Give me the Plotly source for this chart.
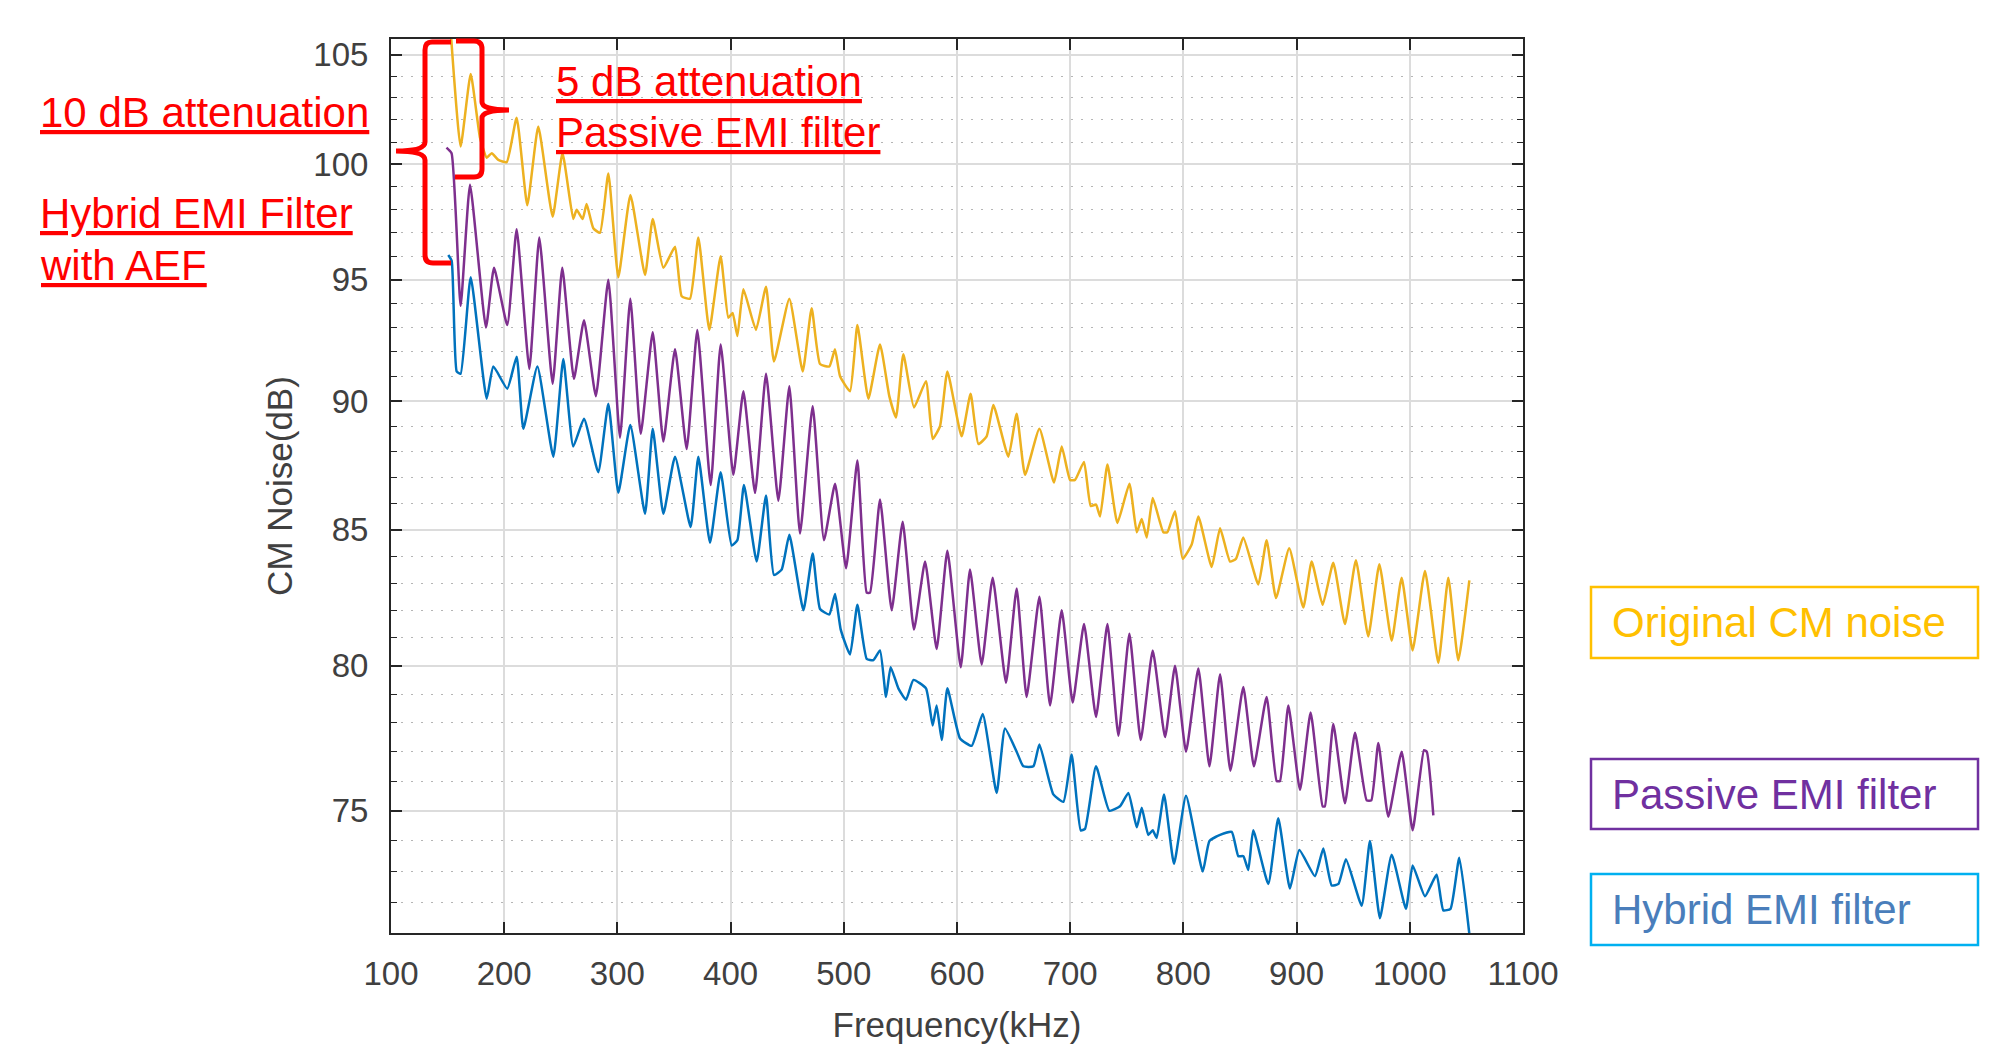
import plotly.graph_objects as go
import math

# ---------------- data ----------------
orig_khz = [153, 161.5, 170.4, 178.6, 184.5, 189, 194.8, 202.2, 211, 220.4, 230.1, 242.8, 251.5, 261, 264,
            269.3, 272.8, 278.7, 284.6, 292, 300.8, 311.5, 324.4, 331.2, 340.6, 350.9, 356.8, 364.1, 371.5,
            381.2, 391.2, 398, 401.8, 406, 411.3, 422.4, 431.3, 438.3, 451.9, 463.7, 471.6, 479, 487.2, 492.2,
            496.7, 505.5, 512, 521.7, 532, 540.2, 546.1, 552.6, 562, 572.6, 578.5, 585, 591.5, 604.1, 612,
            618.9, 626.2, 632.1, 645.4, 652.7, 660.1, 672.8, 685.7, 692.5, 699.9, 704.3, 712.2, 718.1, 722.8,
            726.4, 732.9, 741.7, 752.3, 758.8, 763.2, 767.6, 772.9, 782.3, 785.8, 792.6, 799.4, 807.4, 813.2,
            825, 832.4, 841.2, 846.4, 852.9, 866.2, 873.5, 881.8, 893.5, 905.9, 913.3, 923, 932.4, 942.7, 952.4,
            963.3, 973.1, 984, 992.8, 1002.5, 1013.4, 1025.2, 1034, 1042.8, 1052.6]
orig_db = [105.9, 100.8, 104.1, 101.2, 100.3, 100.5, 100.2, 100.1, 102.1, 98.2, 101.7, 97.7, 100.5, 97.6, 98.0,
           97.6, 98.25, 97.2, 97.0, 99.6, 95.1, 98.65, 95.2, 97.6, 95.5, 96.4, 94.3, 94.2, 96.8,
           92.9, 96.0, 93.4, 93.6, 92.65, 94.6, 92.9, 94.7, 91.6, 94.2, 91.2, 93.8, 91.5, 91.4, 92.1,
           91.0, 90.4, 93.1, 90.1, 92.3, 90.2, 89.35, 91.9, 89.75, 90.8, 88.5, 89.0, 91.2, 88.6, 90.3,
           88.3, 88.6, 89.85, 87.8, 89.5, 87.1, 88.9, 86.8, 88.2, 86.9, 86.9, 87.6, 85.9, 85.95,
           85.5, 87.5, 85.25, 86.75, 84.9, 85.4, 84.7, 86.2, 84.9, 84.9, 85.7, 83.9, 84.45, 85.5,
           83.6, 85.05, 83.8, 83.9, 84.7, 82.95, 84.6, 82.45, 84.3, 82.1, 83.8, 82.2, 83.75, 81.5, 83.85,
           81.05, 83.7, 80.9, 83.2, 80.55, 83.45, 80.1, 83.2, 80.2, 83.1]

passive_khz = [149, 153.5, 161.5, 169.8, 183.9, 191, 202.7, 211, 222.2, 231, 242.8, 251.3, 261.6, 270.5, 281,
               292, 302.3, 311.4, 320.6, 331.2, 340.6, 350.9, 361.2, 370.6, 382.4, 391.2, 402.4, 411.3, 421.6,
               431.3, 442.2, 451.9, 461.3, 472.5, 482.5, 492.3, 502, 512, 520.2, 523.2, 532, 542.3, 552, 562,
               571.8, 582, 591.5, 603.3, 611.5, 621.8, 631.5, 643.3, 652.7, 661.5, 672.8, 682.2, 692.5, 702.2,
               712.2, 722.8, 732.9, 742.6, 752.3, 762.3, 772.9, 783.8, 792.6, 802.3, 813.2, 823, 832.4, 841.5,
               852.9, 862.3, 873.5, 882.4, 885.3, 892.7, 903, 912.4, 923, 925, 932.4, 942.7, 951.6, 961.9, 966,
               972.2, 981, 992.8, 1002.5, 1012.5, 1015, 1020.8]
passive_db = [100.75, 100.5, 93.9, 99.1, 93.0, 95.5, 93.1, 97.15, 91.3, 96.8, 90.7, 95.5, 90.9, 93.3, 90.2,
              95.0, 88.55, 94.2, 88.7, 92.8, 88.4, 92.1, 88.1, 92.9, 86.7, 92.3, 87.1, 90.4, 86.4,
              91.1, 86.1, 90.6, 84.85, 89.8, 84.6, 86.75, 83.55, 87.65, 82.65, 82.65, 86.15, 82.0, 85.3, 81.3,
              83.8, 80.6, 84.2, 79.95, 83.5, 80.05, 83.2, 79.4, 82.8, 78.9, 82.5, 78.6, 82.0, 78.7,
              81.5, 78.2, 81.5, 77.55, 81.15, 77.4, 80.55, 77.5, 80.0, 77.0, 79.9, 76.5, 79.7, 76.35,
              79.25, 76.5, 78.9, 76.0, 76.0, 78.6, 75.7, 78.35, 75.15, 75.15, 77.95, 75.25, 77.65, 75.35, 75.35,
              77.3, 74.8, 77.0, 74.35, 77.05, 77.0, 74.85]

hybrid_khz = [150.6, 153.6, 158, 161.5, 170.4, 184.5, 190.4, 202.7, 211, 216.9, 229.3, 243.4, 252.2, 261, 270.5,
              283.1, 292, 300.8, 311.4, 324.4, 331.2, 340.6, 350.9, 364.7, 371.5, 381.8, 391.2, 401, 406, 411.8,
              423, 431.3, 438.3, 445.1, 451.9, 464.3, 472.5, 479, 487.2, 492.3, 497.3, 505.5, 512, 520.2, 526.1,
              532, 537.3, 541.4, 548.2, 555, 561.5, 572.6, 578.5, 582, 586.5, 591.5, 602.7, 613, 622.7, 635,
              642.4, 652.7, 658.6, 667.5, 672.8, 685.1, 694, 701.3, 709.3, 713.1, 722.8, 734.6, 744, 751.4,
              758.8, 763.2, 769, 772.9, 776.4, 782.9, 791.7, 802.3, 817.1, 823, 832.4, 842.7, 848.5, 853, 857.3,
              861.7, 875, 883.8, 894.1, 902.4, 916.2, 923.6, 931, 937, 943.6, 957.5, 964.8, 973.6, 984, 996.6,
              1002.5, 1013.4, 1023.7, 1029.6, 1036, 1043.7, 1052.6]
hybrid_db = [96.05, 95.8, 91.2, 91.1, 95.1, 90.1, 91.4, 90.5, 91.8, 88.9, 91.4, 87.8, 91.7, 88.2, 89.3,
             87.2, 89.9, 86.4, 89.05, 85.6, 88.9, 85.6, 87.8, 85.1, 87.8, 84.5, 87.2, 84.4, 84.6, 86.7,
             83.8, 86.3, 83.3, 83.5, 84.8, 82.0, 84.1, 82.05, 81.85, 82.6, 81.3, 80.4, 82.2, 80.25, 80.2,
             80.55, 78.9, 79.95, 79.2, 78.8, 79.5, 79.2, 77.9, 78.6, 77.4, 79.2, 77.45, 77.2, 78.3, 75.6,
             77.8, 77.0, 76.5, 76.5, 77.25, 75.55, 75.3, 76.9, 74.35, 74.4, 76.5, 75.0, 75.15, 75.6,
             74.45, 75.1, 74.2, 74.35, 74.1, 75.55, 73.25, 75.5, 73.0, 74.0, 74.2, 74.3, 73.5, 73.5, 73.05,
             74.35, 72.6, 74.75, 72.45, 73.7, 72.85, 73.75, 72.55, 72.6, 73.4, 71.9, 74.0, 71.5, 73.55, 71.8,
             73.2, 72.2, 72.9, 71.75, 71.8, 73.45, 71.0]

x_ticks = [100, 200, 300, 400, 500, 600, 700, 800, 900, 1000, 1100]
y_ticks = [75, 80, 85, 90, 95, 100, 105]
y_minor = [v for v in range(72, 106) if v % 5 != 0]

series_names = ["Original CM noise", "Passive EMI filter", "Hybrid EMI filter"]
series_colors = ["#EDB120", "#7E2F8E", "#0072BD"]

# ---------------- layout geometry (absolute page pixels) ----------------
OFF = 8                      # default body margin of the html page
W_FIG, H_FIG = 2010 - OFF, 1045 - OFF
L, R, T, B = 391, 1523, 39, 933


def px(p):
    return (p - L) / (R - L)


def py(p):
    return (B - p) / (B - T)


def path(cmds):
    out = []
    for c in cmds:
        s = c[0]
        for (a, b) in c[1:]:
            s += f" {px(a):.5f},{py(b):.5f}"
        out.append(s)
    return " ".join(out)


fig = go.Figure()
for xs, ys, name, col in zip([orig_khz, passive_khz, hybrid_khz], [orig_db, passive_db, hybrid_db],
                             series_names, series_colors):
    fig.add_trace(go.Scatter(x=xs, y=ys, mode="lines", name=name,
                             line=dict(color=col, width=2.5, shape="spline", smoothing=0.45),
                             showlegend=False))

tickfont = dict(family="Liberation Sans, Arial, sans-serif", size=33, color="#404040")
titlefont = dict(family="Liberation Sans, Arial, sans-serif", size=35, color="#404040")

fig.update_layout(
    width=W_FIG, height=H_FIG,
    margin=dict(l=L - OFF, r=2010 - R, t=T - OFF, b=1045 - B, autoexpand=False),
    paper_bgcolor="white", plot_bgcolor="white",
    xaxis=dict(range=[100, 1100], tickmode="array", tickvals=x_ticks,
               ticks="inside", ticklen=11, tickwidth=1.5, tickcolor="#262626",
               showline=True, linecolor="#262626", linewidth=2, mirror="allticks",
               showgrid=True, gridcolor="#dcdcdc", gridwidth=1.5, zeroline=False,
               tickfont=tickfont, ticklabelstandoff=10,
               title=dict(text="Frequency(kHz)", font=titlefont, standoff=22)),
    yaxis=dict(type="log", range=[math.log10(71.03), math.log10(105.74)],
               tickmode="array", tickvals=y_ticks, ticktext=[str(v) for v in y_ticks],
               ticks="inside", ticklen=11, tickwidth=1.5, tickcolor="#262626",
               showline=True, linecolor="#262626", linewidth=2, mirror="allticks",
               showgrid=True, gridcolor="#dcdcdc", gridwidth=1.5, zeroline=False,
               tickfont=tickfont, ticklabelstandoff=14,
               minor=dict(tickmode="array", tickvals=y_minor, ticks="inside", ticklen=6,
                          tickwidth=1.2, tickcolor="#262626", showgrid=True,
                          gridcolor="#b5b5b5", gridwidth=1.4, griddash="2px,8px"),
               title=dict(text="CM Noise(dB)", font=titlefont, standoff=10)),
)

# red braces
red = "#FF0000"
left_brace = path([("M", (451, 42)), ("L", (432, 42)), ("Q", (425, 42), (425, 50)), ("L", (425, 142)),
                   ("Q", (425, 151), (396, 151)), ("Q", (425, 151), (425, 160)), ("L", (425, 255)),
                   ("Q", (425, 263), (433, 263)), ("L", (451, 263))])
right_brace = path([("M", (456, 41)), ("L", (474, 41)), ("Q", (482, 41), (482, 49)), ("L", (482, 102)),
                    ("Q", (482, 110), (509, 110)), ("Q", (482, 110), (482, 118)), ("L", (482, 169)),
                    ("Q", (482, 177), (474, 177)), ("L", (455, 177))])
for pth in [left_brace, right_brace]:
    fig.add_shape(type="path", path=pth, xref="paper", yref="paper",
                  line=dict(color=red, width=5), layer="above")

redfont = dict(family="Liberation Sans, Arial, sans-serif", size=42, color=red)
red_texts = [("10 dB attenuation", 38, 112), ("Hybrid EMI Filter", 38, 214), ("with AEF", 38, 266),
             ("5 dB attenuation", 554, 81), ("Passive EMI filter", 554, 132)]
for txt, x0, y0 in red_texts:
    fig.add_annotation(text=f"<u>{txt}</u>", xref="paper", yref="paper", x=px(x0), y=py(y0),
                       xanchor="left", yanchor="middle", showarrow=False, font=redfont)

# legend boxes on the right
box_rows = [(587, 658, "#FFC000", "#FFC000"), (759, 829, "#7030A0", "#7030A0"), (874, 945, "#00B0F0", "#4A7EBB")]
for name, (y0, y1, bcol, tcol) in zip(series_names, box_rows):
    fig.add_shape(type="rect", xref="paper", yref="paper", x0=px(1591), x1=px(1978), y0=py(y1), y1=py(y0),
                  line=dict(color=bcol, width=2.5), fillcolor="rgba(0,0,0,0)", layer="above")
    fig.add_annotation(text=name, xref="paper", yref="paper", x=px(1610), y=py((y0 + y1) / 2),
                       xanchor="left", yanchor="middle", showarrow=False,
                       font=dict(family="Liberation Sans, Arial, sans-serif", size=42, color=tcol))

fig.write_html("out.html")
